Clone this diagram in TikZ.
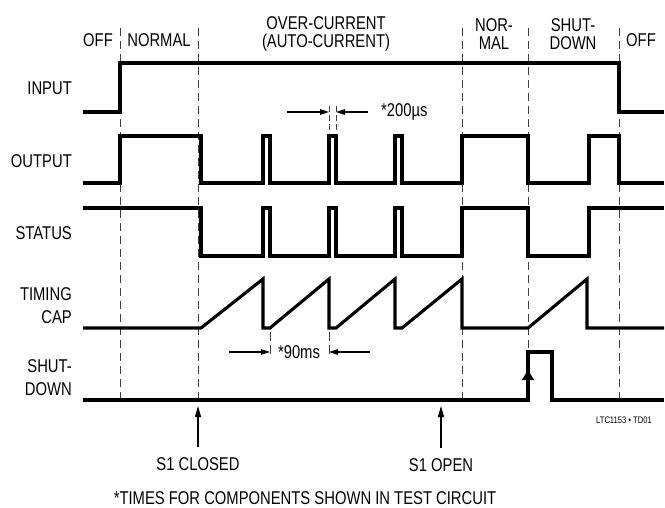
\documentclass[tikz,border=0pt]{standalone}
\usepackage{fontspec}
\setmainfont{Liberation Sans}[FakeStretch=0.8]
\usetikzlibrary{arrows.meta}

\begin{document}
\begin{tikzpicture}[x=1pt,y=-1pt,>=Latex,
  wave/.style={line width=3.1pt,line join=miter},
  guide/.style={black!75,line width=1pt,dash pattern=on 8pt off 5pt},
  dimline/.style={line width=1.2pt,-{Triangle[length=9pt,width=5.5pt]}},
  lbl/.style={font=\fontsize{18.5}{18}\selectfont,inner sep=0pt,align=center}]
  \useasboundingbox (0,0) rectangle (665,508);
  % Phase boundaries
  \foreach \x in {120,198,462,528,619}
    \draw[guide] (\x,28) -- (\x,400);
  % Phase names
  \node[lbl] (ph-off1) at (98,40) {OFF};
  \node[lbl] (ph-norm1) at (159,40) {NORMAL};
  \node[lbl] (ph-over) at (326,34) {OVER-CURRENT\\(AUTO-CURRENT)};
  \node[lbl] (ph-norm2) at (494,34) {NOR-\\MAL};
  \node[lbl] (ph-shut) at (573,34) {SHUT-\\DOWN};
  \node[lbl] (ph-off2) at (641,40) {OFF};
  % Signal names
  \node[lbl,anchor=east] (sig-in) at (72,88) {INPUT};
  \node[lbl,anchor=east] (sig-out) at (72,161) {OUTPUT};
  \node[lbl,anchor=east] (sig-st) at (72,233) {STATUS};
  \node[lbl,anchor=east,align=right,font=\fontsize{18.5}{23}\selectfont] (sig-cap) at (72,306) {TIMING\\CAP};
  \node[lbl,anchor=east,align=right,font=\fontsize{18.5}{23}\selectfont] (sig-sd) at (72,378) {SHUT-\\DOWN};
  % Waveforms
  \draw[wave] (83,112) -- (120,112) -- (120,63) -- (619,63) -- (619,112) -- (664,112);
  \draw[wave] (83,183) -- (120,183) -- (120,136) -- (201,136) -- (201,183)
    -- (263,183) -- (263,136) -- (270,136) -- (270,183) -- (329,183) -- (329,136) -- (336,136) -- (336,183)
    -- (395,183) -- (395,136) -- (402,136) -- (402,183) -- (462,183) -- (462,136) -- (528,136) -- (528,183)
    -- (589,183) -- (589,136) -- (619,136) -- (619,183) -- (664,183);
  \draw[wave] (83,208) -- (201,208) -- (201,256)
    -- (263,256) -- (263,208) -- (270,208) -- (270,256) -- (329,256) -- (329,208) -- (336,208) -- (336,256)
    -- (395,256) -- (395,208) -- (402,208) -- (402,256) -- (462,256) -- (462,208) -- (528,208) -- (528,256)
    -- (589,256) -- (589,208) -- (664,208);
  \draw[wave] (83,328) -- (201,328) -- (263,279) -- (263,328) -- (270,328) -- (329,279) -- (329,328)
    -- (336,328) -- (395,279) -- (395,328) -- (402,328) -- (462,279) -- (462,328)
    -- (528,328) -- (587,279) -- (587,328) -- (664,328);
  \draw[wave] (83,400) -- (528,400) -- (528,352) -- (552,352) -- (552,400) -- (664,400);
  \draw[line width=1pt,-{Triangle[length=10pt,width=12pt]}] (528,392) -- (528,370);
  % Pulse width
  \coordinate (pw-a) at (329,112);
  \coordinate (pw-b) at (336,112);
  \draw[guide,dash pattern=on 6pt off 3pt] (329,106) -- (329,130) (336,106) -- (336,130);
  \draw[dimline] (287,112) -- (pw-a);
  \draw[dimline] (368,112) -- (pw-b);
  \node[lbl,anchor=west] (pw-lbl) at (381,112) {*200µs};
  % Ramp period
  \coordinate (per-a) at (270,352);
  \coordinate (per-b) at (329,352);
  \draw[guide,dash pattern=on 9pt off 4pt] (270,332) -- (270,357) (329,332) -- (329,357);
  \draw[dimline] (229,352) -- (per-a);
  \draw[dimline] (370,352) -- (per-b);
  \node[lbl,fill=white,inner xsep=2pt] (per-lbl) at (299,352) {*90ms};
  % Switch events
  \coordinate (ev-close) at (198,406);
  \coordinate (ev-open) at (441,406);
  \node[lbl,inner ysep=10pt] (s1-close) at (198,464) {S1 CLOSED};
  \node[lbl,inner ysep=10pt] (s1-open) at (441,465) {S1 OPEN};
  \draw[dimline,-{Triangle[length=11pt,width=6pt]}] (s1-close) -- (ev-close);
  \draw[dimline,-{Triangle[length=11pt,width=6pt]}] (s1-open) -- (ev-open);
  % Notes
  \node[lbl] (note) at (305,498) {*TIMES FOR COMPONENTS SHOWN IN TEST CIRCUIT};
  \node[lbl,font=\fontsize{9.5}{10}\selectfont] (fig-id) at (624,420) {LTC1153 • TD01};
\end{tikzpicture}
\end{document}
